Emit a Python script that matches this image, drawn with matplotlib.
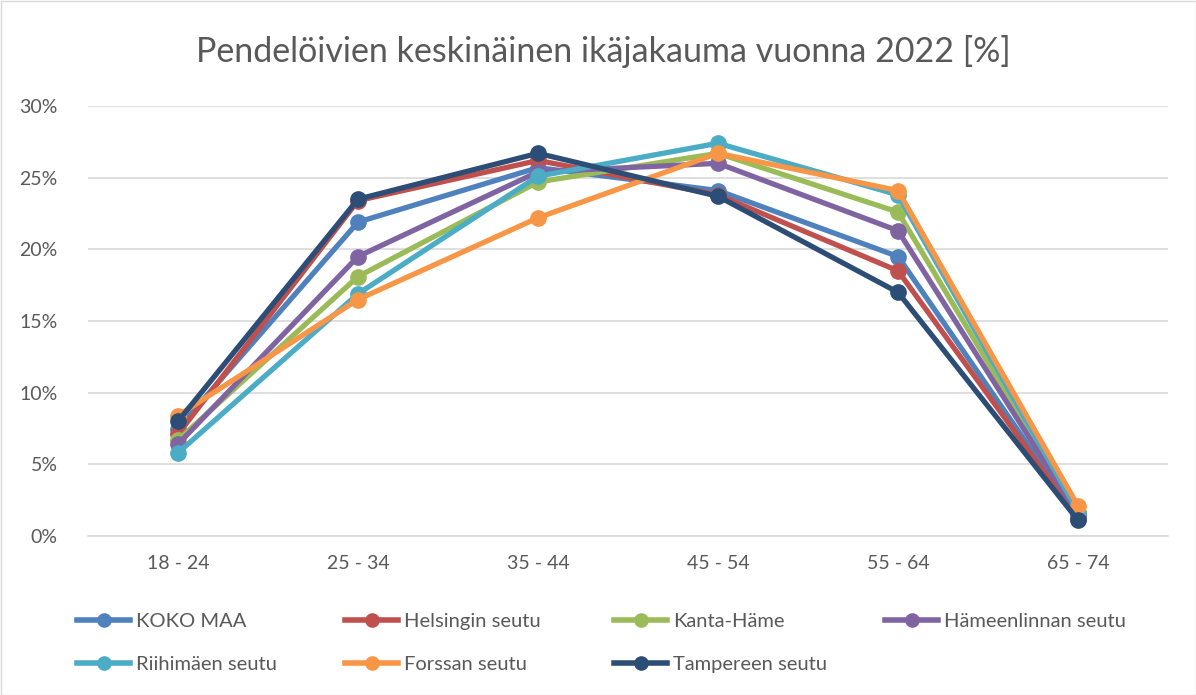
import matplotlib
matplotlib.use("Agg")
import matplotlib.pyplot as plt
from matplotlib.lines import Line2D
from matplotlib.patches import Rectangle
from matplotlib.ticker import FuncFormatter

categories = ["18 - 24", "25 - 34", "35 - 44", "45 - 54", "55 - 64", "65 - 74"]

koko_maa = [7.5, 21.9, 25.7, 24.1, 19.5, 1.3]
helsinki = [7.1, 23.4, 26.2, 23.8, 18.5, 1.2]
kanta_hame = [6.7, 18.1, 24.7, 26.7, 22.6, 1.6]
hameenlinna = [6.4, 19.5, 25.4, 26.0, 21.3, 1.5]
riihimaki = [5.8, 16.9, 25.1, 27.4, 23.8, 1.7]
forssa = [8.4, 16.5, 22.2, 26.7, 24.1, 2.1]
tampere = [8.0, 23.5, 26.7, 23.7, 17.0, 1.1]

series_names = ["KOKO MAA", "Helsingin seutu", "Kanta-Häme", "Hämeenlinnan seutu",
                "Riihimäen seutu", "Forssan seutu", "Tampereen seutu"]
series_values = [koko_maa, helsinki, kanta_hame, hameenlinna, riihimaki, forssa, tampere]
colors = ["#4F81BD", "#C0504D", "#9BBB59", "#8064A2", "#4BACC6", "#F79646", "#2C4D75"]

title = "Pendelöivien keskinäinen ikäjakauma vuonna 2022 [%]"
yticks = [0, 5, 10, 15, 20, 25, 30]

plt.rcParams['font.family'] = ['Lato', 'DejaVu Sans']
txt = "#595959"

fig = plt.figure(figsize=(11.96, 6.95), dpi=100)
ax = fig.add_axes([88/1196, 1-536/695, (1168-88)/1196, (536-106)/695])

x = list(range(len(categories)))
for name, vals, c in zip(series_names, series_values, colors):
    ax.plot(x, vals, color=c, lw=3.8, marker='o', markersize=11,
            solid_joinstyle='round', label=name, zorder=3)

ax.set_xlim(-0.5, len(categories) - 0.5)
ax.set_ylim(0, 30)
ax.set_yticks(yticks)
ax.yaxis.set_major_formatter(FuncFormatter(lambda v, p: f"{int(v)}%"))
ax.set_xticks(x)
ax.set_xticklabels(categories)
ax.grid(axis='y', color='#D9D9D9', lw=1.2)
ax.set_axisbelow(True)
for s in ['top', 'right', 'left']:
    ax.spines[s].set_visible(False)
ax.spines['bottom'].set_color('#D9D9D9')
ax.spines['bottom'].set_linewidth(1.2)
ax.tick_params(axis='both', length=0, labelsize=14, colors=txt)
ax.tick_params(axis='y', pad=22)
ax.tick_params(axis='x', pad=14)

fig.text(603/1196, 1-51/695, title, ha='center', va='center', fontsize=24.5, color=txt)

# legend: four equal-width columns like the original
col_x = [75, 343, 612, 883]
for ci, cx in enumerate(col_x):
    idx = [i for i in (ci, ci + 4) if i < len(series_names)]
    hs = [Line2D([], [], color=colors[i], lw=4, marker='o', markersize=9.5) for i in idx]
    labels = [series_names[i] for i in idx]
    fig.legend(hs, labels, loc='upper left',
               bbox_to_anchor=((cx - 4) / 1196, 1 - 607 / 695),
               frameon=False, fontsize=14.5, labelcolor=txt,
               handlelength=2.65, handletextpad=0.3, labelspacing=1.3,
               borderaxespad=0, borderpad=0.3)

fig.patches.append(Rectangle((0.5/1196, 0.5/695), 1-1/1196, 1-1/695, transform=fig.transFigure,
                             fill=False, edgecolor='#D9D9D9', lw=1))

fig.savefig("out.png", dpi=100)
